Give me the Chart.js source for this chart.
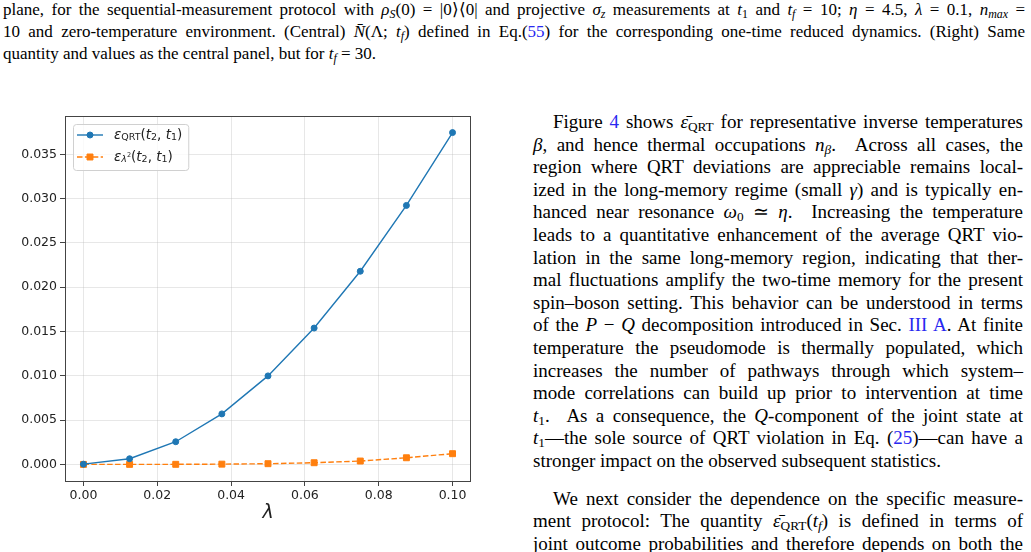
<!DOCTYPE html>
<html lang="en">
<head>
<meta charset="UTF-8">
<title>QRT deviation vs lambda</title>
<script src="https://cdn.jsdelivr.net/npm/chart.js"></script>
<style>
    html, body { margin: 0; padding: 0; background: #fff; }
    body { width: 1031px; height: 552px; position: relative; overflow: hidden; color: #000; }
    .cap { position: absolute; left: 3px; top: -1px; width: 1022px; font: 17px/22px "Liberation Serif", serif; }
    .txt { position: absolute; left: 533px; top: 111px; width: 490px; font: 19px/22.6px "Liberation Serif", serif; }
    .j { text-align: justify; text-align-last: justify; white-space: nowrap; }
    .l { text-align: left; white-space: nowrap; }
    .ind { text-indent: 20px; }
    .gap { height: 15px; }
    sub, sup { font-size: 0.7em; line-height: 0; }
    sub { vertical-align: -0.25em; }
    sup { vertical-align: 0.45em; }
    .lnk { color: #2828f0; }
    #wrap { position: absolute; left: 0; top: 100px; width: 490px; height: 430px; }
</style>
</head>
<body>

<div class="cap">
    <div class="j">plane, for the sequential-measurement protocol with <i>ρ</i><sub><i>S</i></sub>(0) = |0⟩⟨0| and projective <i>σ</i><sub><i>z</i></sub> measurements at <i>t</i><sub>1</sub> and <i>t</i><sub><i>f</i></sub> = 10; <i>η</i> = 4.5, <i>λ</i> = 0.1, <i>n</i><sub><i>max</i></sub> =</div>
    <div class="j">10 and zero-temperature environment. (Central) <i>N̄</i>(Λ; <i>t</i><sub><i>f</i></sub>) defined in Eq.(<span class="lnk">55</span>) for the corresponding one-time reduced dynamics. (Right) Same</div>
    <div class="l">quantity and values as the central panel, but for <i>t</i><sub><i>f</i></sub> = 30.</div>
</div>

<div class="txt">
    <div class="j ind">Figure <span class="lnk">4</span> shows <i>ε̄</i><sub>QRT</sub> for representative inverse temperatures</div>
    <div class="j"><i>β</i>, and hence thermal occupations <i>n</i><sub><i>β</i></sub>. &nbsp;Across all cases, the</div>
    <div class="j">region where QRT deviations are appreciable remains local-</div>
    <div class="j">ized in the long-memory regime (small <i>γ</i>) and is typically en-</div>
    <div class="j">hanced near resonance <i>ω</i><sub>0</sub> ≃ <i>η</i>. &nbsp;Increasing the temperature</div>
    <div class="j">leads to a quantitative enhancement of the average QRT vio-</div>
    <div class="j">lation in the same long-memory region, indicating that ther-</div>
    <div class="j">mal fluctuations amplify the two-time memory for the present</div>
    <div class="j">spin–boson setting. This behavior can be understood in terms</div>
    <div class="j">of the <i>P</i> − <i>Q</i> decomposition introduced in Sec. <span class="lnk">III A</span>. At finite</div>
    <div class="j">temperature the pseudomode is thermally populated, which</div>
    <div class="j">increases the number of pathways through which system–</div>
    <div class="j">mode correlations can build up prior to intervention at time</div>
    <div class="j"><i>t</i><sub>1</sub>. &nbsp;As a consequence, the <i>Q</i>-component of the joint state at</div>
    <div class="j"><i>t</i><sub>1</sub>—the sole source of QRT violation in Eq. (<span class="lnk">25</span>)—can have a</div>
    <div class="l">stronger impact on the observed subsequent statistics.</div>
    <div class="gap"></div>
    <div class="j ind">We next consider the dependence on the specific measure-</div>
    <div class="j">ment protocol: The quantity <i>ε̄</i><sub>QRT</sub>(<i>t</i><sub><i>f</i></sub>) is defined in terms of</div>
    <div class="j">joint outcome probabilities and therefore depends on both the</div>
</div>

<div id="wrap"><canvas id="chart" width="490" height="430"></canvas></div>

<script>
// coupling strength lambda (x values)
const LAMBDA = [0, 0.0125, 0.025, 0.0375, 0.05, 0.0625, 0.075, 0.0875, 0.1];
// epsilon_QRT(t2, t1)
const EPS_QRT = [0.00003, 0.00064, 0.00256, 0.00570, 0.00999, 0.01539, 0.02180, 0.02923, 0.03745];
// epsilon_lambda^2(t2, t1)
const EPS_L2 = [0, 0.000005, 0.00001, 0.00003, 0.00008, 0.00019, 0.00038, 0.00075, 0.00121];

const X_TICKS = [0, 0.02, 0.04, 0.06, 0.08, 0.10];
const Y_TICKS = [0, 0.005, 0.010, 0.015, 0.020, 0.025, 0.030, 0.035];

const BLUE = '#1f77b4';
const ORANGE = '#ff7f0e';
const FONT = 'DejaVu Sans';

// matplotlib-like 5% margins around the data
const xPad = (Math.max(...LAMBDA) - Math.min(...LAMBDA)) * 0.05;
const allY = EPS_QRT.concat(EPS_L2);
const yPad = (Math.max(...allY) - Math.min(...allY)) * 0.05;

// legend labels as rich text pieces: [text, font, dy]
const big = '13.5px ' + FONT, bigI = 'italic 13.5px ' + FONT;
const small = '9.5px ' + FONT, smallI = 'italic 9.5px ' + FONT;
const tail = [['(', big, 0], ['t', bigI, 0], ['2', small, 3], [', ', big, 0],
              ['t', bigI, 0], ['1', small, 3], [')', big, 0]];
const LEGEND_TEXT = [
    [['ε', bigI, 0], ['QRT', small, 3]].concat(tail),
    [['ε', bigI, 0], ['λ', smallI, 3], ['2', '6.5px ' + FONT, -1.5]].concat(tail)
];

const frameAndLegend = {
    id: 'frameAndLegend',
    afterDraw(chart) {
        const ctx = chart.ctx;
        const a = chart.chartArea;
        ctx.save();
        // axes frame on all four sides
        ctx.strokeStyle = '#444';
        ctx.lineWidth = 1;
        ctx.setLineDash([]);
        ctx.strokeRect(Math.round(a.left) + 0.5, Math.round(a.top) + 0.5,
                       Math.round(a.right - a.left) - 1, Math.round(a.bottom - a.top));

        // legend
        const bx = a.left + 8, by = a.top + 8;
        let maxW = 0;
        LEGEND_TEXT.forEach(parts => {
            let w = 0;
            parts.forEach(p => { ctx.font = p[1]; w += ctx.measureText(p[0]).width; });
            maxW = Math.max(maxW, w);
        });
        const bw = 41 + maxW + 6, bh = 46;
        ctx.beginPath();
        ctx.roundRect(bx + 0.5, by + 0.5, bw, bh, 3);
        ctx.fillStyle = 'rgba(255,255,255,0.8)';
        ctx.fill();
        ctx.strokeStyle = '#d0d0d0';
        ctx.stroke();

        chart.data.datasets.forEach((ds, i) => {
            const y = by + 11 + i * 22;
            ctx.strokeStyle = ds.borderColor;
            ctx.lineWidth = ds.borderWidth;
            ctx.setLineDash(ds.borderDash || []);
            ctx.beginPath();
            ctx.moveTo(bx + 4, y);
            ctx.lineTo(bx + 30, y);
            ctx.stroke();
            ctx.setLineDash([]);
            ctx.fillStyle = ds.pointBackgroundColor;
            ctx.strokeStyle = ds.pointBorderColor;
            ctx.lineWidth = ds.pointBorderWidth;
            Chart.helpers.drawPoint(ctx, {
                pointStyle: ds.pointStyle, rotation: 0,
                radius: ds.pointRadius, borderWidth: ds.pointBorderWidth
            }, bx + 17, y);

            let x = bx + 41;
            ctx.fillStyle = '#222';
            ctx.textBaseline = 'middle';
            ctx.textAlign = 'left';
            LEGEND_TEXT[i].forEach(p => {
                ctx.font = p[1];
                ctx.fillText(p[0], x, y + p[2]);
                x += ctx.measureText(p[0]).width;
            });
        });
        ctx.restore();
    }
};

const tickFont = { family: FONT, size: 12.5 };
const gridOpts = { color: 'rgba(176,176,176,0.3)', tickColor: '#444', tickLength: 5, lineWidth: 1 };

new Chart(document.getElementById('chart'), {
    type: 'line',
    data: {
        datasets: [{
            label: 'ε_QRT(t₂, t₁)',
            data: LAMBDA.map((x, i) => ({ x: x, y: EPS_QRT[i] })),
            borderColor: BLUE,
            borderWidth: 1.4,
            pointStyle: 'circle',
            pointRadius: 3,
            pointBackgroundColor: BLUE,
            pointBorderColor: BLUE,
            pointBorderWidth: 1,
            tension: 0
        }, {
            label: 'ε_λ²(t₂, t₁)',
            data: LAMBDA.map((x, i) => ({ x: x, y: EPS_L2[i] })),
            borderColor: ORANGE,
            borderWidth: 1.4,
            borderDash: [5.5, 2.4],
            pointStyle: 'rect',
            pointRadius: 4.2,
            pointBackgroundColor: ORANGE,
            pointBorderColor: ORANGE,
            pointBorderWidth: 1,
            tension: 0
        }]
    },
    options: {
        responsive: false,
        animation: false,
        devicePixelRatio: 1,
        layout: { padding: { left: 0, right: 19, top: 16, bottom: 0 } },
        plugins: { legend: { display: false }, tooltip: { enabled: false } },
        scales: {
            x: {
                type: 'linear',
                min: Math.min(...LAMBDA) - xPad,
                max: Math.max(...LAMBDA) + xPad,
                afterBuildTicks: s => { s.ticks = X_TICKS.map(v => ({ value: v })); },
                afterFit: s => { s.height = 49; },
                ticks: { callback: v => v.toFixed(2), font: tickFont, color: '#222', padding: 2, maxRotation: 0, autoSkip: false },
                grid: gridOpts,
                border: { display: false },
                title: { display: true, text: 'λ', color: '#222',
                         font: { family: FONT, style: 'italic', size: 19 }, padding: { top: 0, bottom: 6 } }
            },
            y: {
                type: 'linear',
                min: Math.min(...allY) - yPad,
                max: Math.max(...allY) + yPad,
                afterBuildTicks: s => { s.ticks = Y_TICKS.map(v => ({ value: v })); },
                afterFit: s => { s.width = 65; },
                ticks: { callback: v => v.toFixed(3), font: tickFont, color: '#222', padding: 3, autoSkip: false },
                grid: gridOpts,
                border: { display: false }
            }
        }
    },
    plugins: [frameAndLegend]
});
</script>
</body>
</html>
